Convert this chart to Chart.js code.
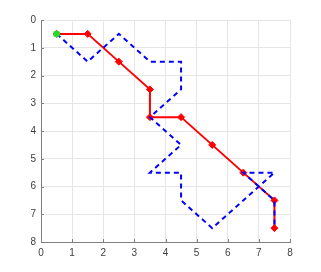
<!DOCTYPE html>
<html><head><meta charset="utf-8">
<script src="https://cdn.jsdelivr.net/npm/chart.js@4"></script>
<style>html,body{margin:0;padding:0;background:#fff}#wrap{width:321px;height:272px}</style>
</head><body><div id="wrap"><canvas id="c" width="321" height="272"></canvas></div>
<script>
const redX = [0.5, 1.5, 2.5, 3.5, 3.5, 4.5, 5.5, 6.5, 7.5, 7.5];
const redY = [0.5, 0.5, 1.5, 2.5, 3.5, 3.5, 4.5, 5.5, 6.5, 7.5];
const blueX = [0.5, 1.5, 2.5, 3.5, 4.5, 4.5, 3.5, 4.5, 3.5, 4.5, 4.5, 5.5, 7.5, 6.5, 7.5, 7.5];
const blueY = [0.5, 1.5, 0.5, 1.5, 1.5, 2.5, 3.5, 4.5, 5.5, 5.5, 6.5, 7.5, 5.5, 5.5, 6.5, 7.5];
const startX = [0.5];
const startY = [0.5];
const tickValues = [0, 1, 2, 3, 4, 5, 6, 7, 8];

const pts = (xs, ys) => xs.map((x, i) => ({x: x, y: ys[i]}));

const innerTicks = {
  id: 'innerTicks',
  afterDatasetsDraw(chart) {
    const {ctx, chartArea: a, scales: {x, y}} = chart;
    ctx.save();
    ctx.strokeStyle = '#808080';
    ctx.lineWidth = 1;
    ctx.beginPath();
    tickValues.forEach(v => {
      const px = Math.round(x.getPixelForValue(v)) + 0.5;
      ctx.moveTo(px, a.bottom); ctx.lineTo(px, a.bottom - 3);
      const py = Math.round(y.getPixelForValue(v)) + 0.5;
      ctx.moveTo(a.left, py); ctx.lineTo(a.left + 3, py);
    });
    ctx.stroke();
    ctx.restore();
  }
};

new Chart(document.getElementById('c'), {
  type: 'scatter',
  data: {
    datasets: [
      {
        data: pts(redX, redY), showLine: true, borderColor: '#ff0000', backgroundColor: '#ff0000',
        borderWidth: 2, pointStyle: 'rectRot', pointRadius: 3.5, pointBorderWidth: 1,
        pointBorderColor: '#ff0000', order: 3
      },
      {
        data: pts(blueX, blueY), showLine: true, borderColor: '#0000ff', borderWidth: 2,
        borderDash: [5, 4], pointRadius: 0, order: 2
      },
      {
        data: pts(startX, startY), showLine: false, backgroundColor: '#22dd22', borderColor: '#22dd22',
        pointStyle: 'circle', pointRadius: 3, order: 1
      }
    ]
  },
  options: {
    responsive: false, animation: false,
    layout: {padding: {left: 0, right: 31, top: 20, bottom: 0}},
    plugins: {legend: {display: false}, tooltip: {enabled: false}},
    scales: {
      x: {
        type: 'linear', min: 0, max: 8,
        afterBuildTicks: s => { s.ticks = tickValues.map(v => ({value: v})); },
        afterFit: s => { s.height = 30; },
        grid: {color: '#e6e6e6', drawTicks: false},
        border: {display: true, color: '#808080', width: 1},
        ticks: {color: '#404040', font: {family: 'Liberation Sans', size: 10}, padding: 5, maxRotation: 0}
      },
      y: {
        type: 'linear', min: 0, max: 8, reverse: true,
        afterBuildTicks: s => { s.ticks = tickValues.map(v => ({value: v})); },
        afterFit: s => { s.width = 41; },
        grid: {color: '#e6e6e6', drawTicks: false},
        border: {display: true, color: '#808080', width: 1},
        ticks: {color: '#404040', font: {family: 'Liberation Sans', size: 10}, padding: 5}
      }
    }
  },
  plugins: [innerTicks]
});
</script></body></html>
